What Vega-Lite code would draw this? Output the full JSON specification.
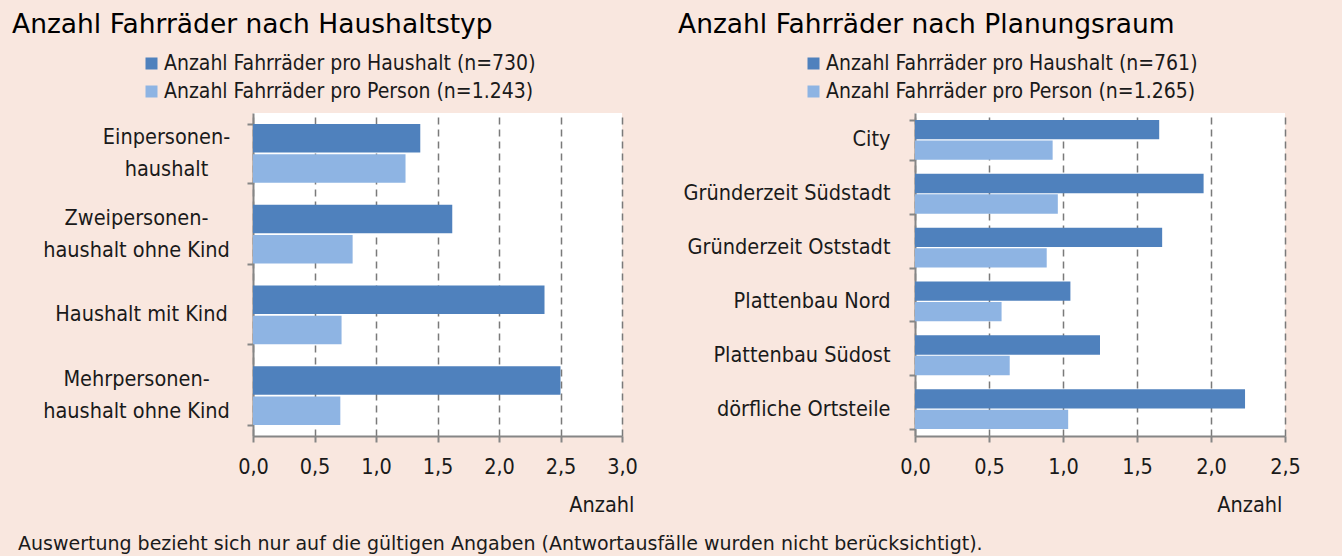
{
  "$schema": "https://vega.github.io/schema/vega-lite/v6.json",
  "background": "#F9E7DF",
  "padding": {"left": 12, "top": 11, "right": 45, "bottom": 2},
  "title": {
    "text": "Auswertung bezieht sich nur auf die gültigen Angaben (Antwortausfälle wurden nicht berücksichtigt).",
    "orient": "bottom",
    "anchor": "start",
    "frame": "bounds",
    "font": "DejaVu Sans",
    "fontSize": 19,
    "fontWeight": "normal",
    "color": "#1a1a1a",
    "offset": 19,
    "dx": 6
  },
  "spacing": 293,
  "bounds": "flush",
  "resolve": {"scale": {"color": "independent", "y": "independent", "x": "independent", "yOffset": "independent"}, "legend": {"color": "independent"}},
  "hconcat": [
    {
      "width": 369,
      "height": 323,
      "title": {"text": "Anzahl Fahrräder nach Haushaltstyp"},
      "data": {
        "values": [
          {"typ": "Einpersonen-haushalt", "reihe": "Anzahl Fahrräder pro Haushalt (n=730)", "anzahl": 1.36},
          {"typ": "Einpersonen-haushalt", "reihe": "Anzahl Fahrräder pro Person (n=1.243)", "anzahl": 1.24},
          {"typ": "Zweipersonen-haushalt ohne Kind", "reihe": "Anzahl Fahrräder pro Haushalt (n=730)", "anzahl": 1.62},
          {"typ": "Zweipersonen-haushalt ohne Kind", "reihe": "Anzahl Fahrräder pro Person (n=1.243)", "anzahl": 0.81},
          {"typ": "Haushalt mit Kind", "reihe": "Anzahl Fahrräder pro Haushalt (n=730)", "anzahl": 2.37},
          {"typ": "Haushalt mit Kind", "reihe": "Anzahl Fahrräder pro Person (n=1.243)", "anzahl": 0.72},
          {"typ": "Mehrpersonen-haushalt ohne Kind", "reihe": "Anzahl Fahrräder pro Haushalt (n=730)", "anzahl": 2.5},
          {"typ": "Mehrpersonen-haushalt ohne Kind", "reihe": "Anzahl Fahrräder pro Person (n=1.243)", "anzahl": 0.71}
        ]
      },
      "mark": {"type": "bar"},
      "encoding": {
        "y": {
          "field": "typ",
          "type": "nominal",
          "sort": ["Einpersonen-haushalt", "Zweipersonen-haushalt ohne Kind", "Haushalt mit Kind", "Mehrpersonen-haushalt ohne Kind"],
          "scale": {"paddingInner": 0.27, "paddingOuter": 0.135},
          "axis": {
            "title": null,
            "labelExpr": "split(replace(datum.label, 'n-h', 'n-|h'), '|')",
            "labelAlign": "center",
            "labelPadding": {"condition": [{"test": "datum.value === 'Einpersonen-haushalt'", "value": 81}, {"test": "datum.value === 'Haushalt mit Kind'", "value": 106}], "value": 111},
            "labelOffset": {"condition": {"test": "datum.value === 'Haushalt mit Kind'", "value": 0}, "value": -16},
            "minExtent": 241,
            "maxExtent": 241
          }
        },
        "yOffset": {
          "field": "reihe",
          "type": "nominal",
          "sort": ["Anzahl Fahrräder pro Haushalt (n=730)", "Anzahl Fahrräder pro Person (n=1.243)"]
        },
        "x": {
          "field": "anzahl",
          "type": "quantitative",
          "scale": {"domain": [0, 3], "nice": false},
          "axis": {
            "values": [0, 0.5, 1, 1.5, 2, 2.5, 3],
            "title": "Anzahl",
            "titleX": 381,
            "titleY": 69
          }
        },
        "color": {
          "field": "reihe",
          "type": "nominal",
          "scale": {"domain": ["Anzahl Fahrräder pro Haushalt (n=730)", "Anzahl Fahrräder pro Person (n=1.243)"], "range": ["#4F81BD", "#8EB4E3"]},
          "legend": {"legendX": -112, "legendY": -60}
        }
      }
    },
    {
      "width": 370,
      "height": 323,
      "title": {"text": "Anzahl Fahrräder nach Planungsraum"},
      "data": {
        "values": [
          {"raum": "City", "reihe": "Anzahl Fahrräder pro Haushalt (n=761)", "anzahl": 1.65},
          {"raum": "City", "reihe": "Anzahl Fahrräder pro Person (n=1.265)", "anzahl": 0.93},
          {"raum": "Gründerzeit Südstadt", "reihe": "Anzahl Fahrräder pro Haushalt (n=761)", "anzahl": 1.95},
          {"raum": "Gründerzeit Südstadt", "reihe": "Anzahl Fahrräder pro Person (n=1.265)", "anzahl": 0.965},
          {"raum": "Gründerzeit Oststadt", "reihe": "Anzahl Fahrräder pro Haushalt (n=761)", "anzahl": 1.67},
          {"raum": "Gründerzeit Oststadt", "reihe": "Anzahl Fahrräder pro Person (n=1.265)", "anzahl": 0.89},
          {"raum": "Plattenbau Nord", "reihe": "Anzahl Fahrräder pro Haushalt (n=761)", "anzahl": 1.05},
          {"raum": "Plattenbau Nord", "reihe": "Anzahl Fahrräder pro Person (n=1.265)", "anzahl": 0.585},
          {"raum": "Plattenbau Südost", "reihe": "Anzahl Fahrräder pro Haushalt (n=761)", "anzahl": 1.25},
          {"raum": "Plattenbau Südost", "reihe": "Anzahl Fahrräder pro Person (n=1.265)", "anzahl": 0.64},
          {"raum": "dörfliche Ortsteile", "reihe": "Anzahl Fahrräder pro Haushalt (n=761)", "anzahl": 2.23},
          {"raum": "dörfliche Ortsteile", "reihe": "Anzahl Fahrräder pro Person (n=1.265)", "anzahl": 1.035}
        ]
      },
      "mark": {"type": "bar"},
      "encoding": {
        "y": {
          "field": "raum",
          "type": "nominal",
          "sort": ["City", "Gründerzeit Südstadt", "Gründerzeit Oststadt", "Plattenbau Nord", "Plattenbau Südost", "dörfliche Ortsteile"],
          "scale": {"paddingInner": 0.26, "paddingOuter": 0.13},
          "axis": {"title": null, "minExtent": 237, "maxExtent": 237}
        },
        "yOffset": {
          "field": "reihe",
          "type": "nominal",
          "sort": ["Anzahl Fahrräder pro Haushalt (n=761)", "Anzahl Fahrräder pro Person (n=1.265)"]
        },
        "x": {
          "field": "anzahl",
          "type": "quantitative",
          "scale": {"domain": [0, 2.5], "nice": false},
          "axis": {
            "values": [0, 0.5, 1, 1.5, 2, 2.5],
            "title": "Anzahl",
            "titleX": 367,
            "titleY": 69
          }
        },
        "color": {
          "field": "reihe",
          "type": "nominal",
          "scale": {"domain": ["Anzahl Fahrräder pro Haushalt (n=761)", "Anzahl Fahrräder pro Person (n=1.265)"], "range": ["#4F81BD", "#8EB4E3"]},
          "legend": {"legendX": -112, "legendY": -60}
        }
      }
    }
  ],
  "config": {
    "font": "DejaVu Sans Condensed",
    "view": {"fill": "white", "stroke": null},
    "scale": {"offsetBandPaddingInner": 0.06, "offsetBandPaddingOuter": 0},
    "title": {
      "anchor": "start",
      "frame": "bounds",
      "font": "DejaVu Sans",
      "fontSize": 26.5,
      "fontWeight": "normal",
      "color": "#000000",
      "offset": 15
    },
    "axis": {
      "labelFont": "DejaVu Sans Condensed",
      "labelFontSize": 21.5,
      "labelColor": "#1a1a1a",
      "titleFont": "DejaVu Sans Condensed",
      "titleFontSize": 21.5,
      "titleFontWeight": "normal",
      "titleColor": "#1a1a1a",
      "domainColor": "#868686",
      "domainWidth": 2,
      "tickColor": "#868686",
      "tickWidth": 2,
      "tickSize": 6
    },
    "axisX": {
      "grid": true,
      "gridColor": "#7a7a7a",
      "gridDash": [7, 5],
      "gridWidth": 1.5,
      "labelPadding": 14,
      "labelFlush": false,
      "labelExpr": "replace(format(datum.value, '.1f'), '.', ',')",
      "titleAlign": "right",
      "titleBaseline": "middle",
      "titleAnchor": null
    },
    "axisY": {
      "grid": false,
      "tickBand": "extent",
      "labelPadding": 19,
      "labelLineHeight": 32,
      "labelLimit": 400
    },
    "legend": {
      "orient": "none",
      "direction": "vertical",
      "title": null,
      "symbolType": "square",
      "symbolSize": 144,
      "symbolStrokeWidth": 0,
      "labelFont": "DejaVu Sans Condensed",
      "labelFontSize": 21,
      "labelColor": "#1a1a1a",
      "labelOffset": 2,
      "rowPadding": 6,
      "labelLimit": 500
    }
  }
}
